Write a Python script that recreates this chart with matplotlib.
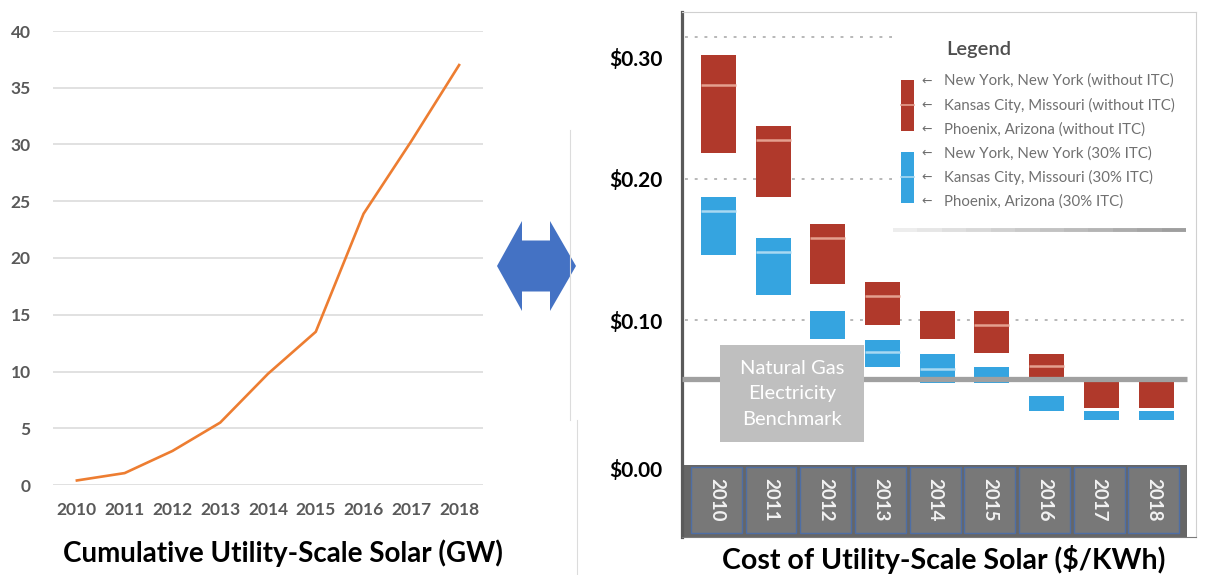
import matplotlib
matplotlib.use('Agg')
import matplotlib.pyplot as plt
import matplotlib.transforms as mtransforms
from matplotlib.patches import Rectangle, Polygon
import numpy as np

plt.rcParams['font.family'] = ['Lato', 'DejaVu Sans']

# left panel: cumulative utility-scale solar (GW)
years = ['2010', '2011', '2012', '2013', '2014', '2015', '2016', '2017', '2018']
capacity_gw = [0.4, 1.05, 3.0, 5.5, 9.8, 13.5, 23.9, 30.3, 37.0]

# right panel: cost ranges ($/kWh), top = New York, stripe = Kansas City, bottom = Phoenix
no_itc_ny = [0.287, 0.237, 0.168, 0.127, 0.107, 0.107, 0.076, 0.058, 0.058]
no_itc_kc = [0.266, 0.227, 0.158, 0.117, None, 0.097, 0.068, None, None]
no_itc_phx = [0.218, 0.187, 0.126, 0.097, 0.087, 0.077, 0.060, 0.038, 0.038]
itc_ny = [0.187, 0.158, 0.107, 0.086, 0.076, 0.067, 0.047, 0.036, 0.036]
itc_kc = [0.177, 0.148, None, 0.0775, 0.066, None, None, None, None]
itc_phx = [0.146, 0.118, 0.087, 0.067, 0.056, 0.056, 0.036, 0.030, 0.030]
gas_benchmark = 0.0585

cost_ticks = [0.0, 0.1, 0.2, 0.3]
cost_tick_labels = ['\\$0.00', '\\$0.10', '\\$0.20', '\\$0.30']
legend_labels = ['New York, New York (without ITC)',
                 'Kansas City, Missouri (without ITC)',
                 'Phoenix, Arizona (without ITC)',
                 'New York, New York (30% ITC)',
                 'Kansas City, Missouri (30% ITC)',
                 'Phoenix, Arizona (30% ITC)']

RED = '#B0392B'
RED_STRIPE = '#E4A08F'
BLUE = '#35A4E0'
BLUE_STRIPE = '#A9D9F2'

W, H = 1218, 575
fig = plt.figure(figsize=(W / 100, H / 100), dpi=100)


def px_box(l, t, r, b):
    return [l / W, 1 - b / H, (r - l) / W, (b - t) / H]


# ---- left chart ----
ax1 = fig.add_axes(px_box(53, 31, 483, 485))
x = np.arange(len(years))
ax1.plot(x, capacity_gw, color='#ED7D31', lw=1.9, zorder=3)
ax1.set_xlim(-0.5, len(years) - 0.5)
ax1.set_ylim(0, 40)
ax1.set_yticks(range(0, 41, 5))
ax1.set_xticks(x, years)
ax1.yaxis.grid(True, color='#d9d9d9', lw=1.1)
ax1.set_axisbelow(True)
for s in ax1.spines.values():
    s.set_visible(False)
ax1.tick_params(length=0, labelsize=12.5, labelcolor='#595959')
ax1.tick_params(axis='y', pad=16)
ax1.tick_params(axis='x', pad=12)
for lbl in ax1.get_xticklabels() + ax1.get_yticklabels():
    lbl.set_fontweight('bold')

fig.text(283 / W, 1 - 553 / H, 'Cumulative Utility-Scale Solar (GW)',
         ha='center', va='center', fontsize=20, fontweight='bold')

# ---- right chart ----
ax2 = fig.add_axes(px_box(682, 12, 1196, 537))
ax2.set_xlim(-0.667, 8.73)
ax2.set_ylim(-0.0528, 0.3176)
bw = 0.64

ax2.hlines(cost_ticks[1:], -0.62, 8.53, colors='#b8b8b8', lw=1.4,
           linestyles=(0, (1.5, 3.5)), zorder=1)


def cost_boxes(top, mid, bot, color, stripe):
    ax2.bar(x, np.subtract(top, bot), bottom=bot, width=bw, color=color, zorder=2)
    for i, v in enumerate(mid):
        if v is not None:
            ax2.plot([i - bw / 2, i + bw / 2], [v, v], color=stripe, lw=1.8,
                     solid_capstyle='butt', zorder=3)


cost_boxes(no_itc_ny, no_itc_kc, no_itc_phx, RED, RED_STRIPE)
cost_boxes(itc_ny, itc_kc, itc_phx, BLUE, BLUE_STRIPE)

ax2.hlines(gas_benchmark, -0.667, 8.565, color='#a0a0a0', lw=3.8, zorder=4)

# benchmark label box
ax2.add_patch(Rectangle((0.027, 0.0141), 2.633, 0.0683, fc='#bfbfbf', ec='none', zorder=5))
ax2.text(1.343, 0.0483, 'Natural Gas\nElectricity\nBenchmark', ha='center', va='center',
         color='white', fontsize=14.5, linespacing=1.62, zorder=6)

# category strip with year boxes
ax2.add_patch(Rectangle((-0.648, -0.0528), 9.213, 0.0507, fc='#666666', ec='none', zorder=2))
for i, yr in enumerate(years):
    ax2.add_patch(Rectangle((i - 0.04 - 0.465, -0.0500), 0.93, 0.0465,
                            fc='#787878', ec='#4e6ea5', lw=1.0, zorder=3))
    ax2.text(i - 0.04, -0.0268, yr, rotation=270, ha='center', va='center',
             color='#f2f2f2', fontsize=13.5, fontweight='bold', zorder=4)

ax2.set_xticks([])
ax2.set_yticks(cost_ticks, cost_tick_labels)
ax2.tick_params(axis='y', length=0, pad=14, labelsize=15)
for lbl in ax2.get_yticklabels():
    lbl.set_fontweight('bold')
shift = {'\\$0.30': -21, '\\$0.00': -6}
for lbl, txt in zip(ax2.get_yticklabels(), cost_tick_labels):
    if txt in shift:
        off = mtransforms.ScaledTranslation(0, shift[txt] / 100, fig.dpi_scale_trans)
        lbl.set_transform(lbl.get_transform() + off)

ax2.spines['left'].set_color('#5a5a5a')
ax2.spines['left'].set_linewidth(2.3)
for side in ['top', 'right']:
    ax2.spines[side].set_color('#d0d0d0')
    ax2.spines[side].set_linewidth(0.8)
ax2.spines['bottom'].set_color('#7a7a7a')

fig.text(944 / W, 1 - 560 / H, 'Cost of Utility-Scale Solar (\\$/KWh)',
         ha='center', va='center', fontsize=20.5, fontweight='bold')

# ---- overlay: arrow, separators, legend ----
ov = fig.add_axes([0, 0, 1, 1], zorder=10)
ov.set_xlim(0, W)
ov.set_ylim(H, 0)
ov.axis('off')
ov.patch.set_visible(False)

cx, cy = 537, 266
tip, shaft_half = 40, 13
hh, sh = 45, 25.5
arrow_pts = [(cx - tip, cy), (cx - shaft_half - 2, cy - hh), (cx - shaft_half - 2, cy - sh),
             (cx + shaft_half, cy - sh), (cx + shaft_half, cy - hh), (cx + tip - 1, cy),
             (cx + shaft_half, cy + hh), (cx + shaft_half, cy + sh),
             (cx - shaft_half - 2, cy + sh), (cx - shaft_half - 2, cy + hh)]
ov.add_patch(Polygon(arrow_pts, closed=True, fc='#4472C4', ec='none'))

ov.plot([570, 570], [130, 420], color='#dcdcdc', lw=0.8)
ov.plot([577, 577], [420, 575], color='#dcdcdc', lw=0.8)

# legend panel
ov.add_patch(Rectangle((892, 14), 301, 214, fc='white', ec='none'))
# shadow under the legend, fading out to the left
shade = np.linspace(0.93, 0.62, 12)
edges = np.linspace(893, 1186, 13)
for g, x0, x1 in zip(shade, edges[:-1], edges[1:]):
    ov.plot([x0, x1], [230, 230], color=(g, g, g), lw=2.8, solid_capstyle='butt')
ov.text(946, 50, 'Legend', ha='left', va='center', fontsize=14.5,
        fontweight='semibold', color='#4f4f4f')
ov.add_patch(Rectangle((901, 80), 13, 51, fc=RED, ec='none'))
ov.plot([901, 914], [105, 105], color=RED_STRIPE, lw=1.2)
ov.add_patch(Rectangle((901, 152), 13, 51, fc=BLUE, ec='none'))
ov.plot([901, 914], [177, 177], color=BLUE_STRIPE, lw=1.2)
for k, lab in enumerate(legend_labels):
    yy = 81 + 24.1 * k
    ov.text(921, yy, '\u2190', ha='left', va='center', fontsize=9,
            color='#6e6e6e', family=['DejaVu Sans'])
    ov.text(944, yy, lab, ha='left', va='center', fontsize=10.8, color='#707070')

fig.savefig('out.png', dpi=100, facecolor='white')
